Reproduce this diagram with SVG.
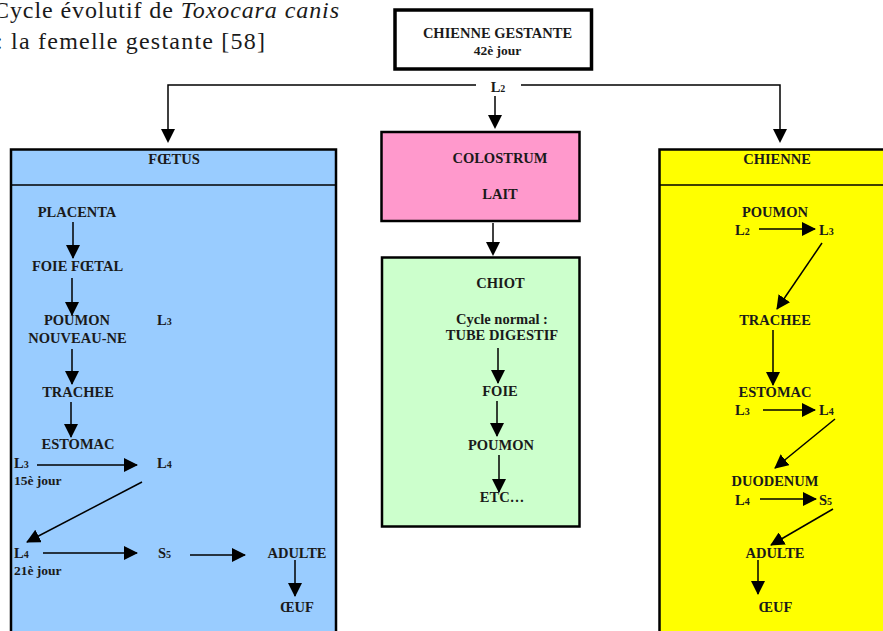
<svg xmlns="http://www.w3.org/2000/svg" width="883" height="631" viewBox="0 0 883 631">
  <style>
    .lbl { font-family: "Liberation Serif", "DejaVu Serif", serif; font-size: 14.5px; font-weight: bold; fill: #1a1a1a; }
    .cap { font-family: "Liberation Serif", serif; font-size: 24px; fill: #1a1a1a; }
    .sm { font-size: 13.5px; }
    .sub { font-size: 10px; }
    .mid { text-anchor: middle; }
    .box { stroke: #000; stroke-width: 2.5; }
    .conn { fill: none; stroke: #000; stroke-width: 1.5; }
    .arr { fill: none; stroke: #000; stroke-width: 1.5; marker-end: url(#head); }
  </style>
  <defs>
    <marker id="head" markerUnits="userSpaceOnUse" viewBox="0 0 14 14" refX="13" refY="7" markerWidth="14" markerHeight="14" orient="auto">
      <path d="M0,0 L14,7 L0,14 z" fill="#000"/>
    </marker>
  </defs>

  <rect width="883" height="631" fill="#fff"/>

  <!-- caption (runs off the page on the left) -->
  <text class="cap" x="-7" y="18" textLength="346" lengthAdjust="spacing">Cycle évolutif de <tspan font-style="italic">Toxocara canis</tspan></text>
  <text class="cap" x="-4" y="49" textLength="269" lengthAdjust="spacing">: la femelle gestante [58]</text>

  <!-- connectors from the pregnant bitch -->
  <g id="connectors">
    <polyline class="conn" points="476,85 168,85 168,130"/>
    <path d="M161,129 L175,129 L168,143 z" fill="#000"/>
    <polyline class="conn" points="521,85 780,85 780,130"/>
    <path d="M773,129 L787,129 L780,143 z" fill="#000"/>
    <line class="conn" x1="495" y1="96" x2="495" y2="116"/>
    <path d="M488,115 L502,115 L495,129 z" fill="#000"/>
    <text class="lbl mid" x="498" y="92">L<tspan class="sub">2</tspan></text>
    <line class="conn" x1="493" y1="223" x2="493" y2="244"/>
    <path d="M486,242 L500,242 L493,256 z" fill="#000"/>
  </g>

  <!-- pregnant bitch -->
  <g id="chienne-gestante">
    <rect x="395" y="10" width="196.5" height="59" fill="#fff" stroke="#000" stroke-width="3.5"/>
    <text class="lbl mid" x="497.5" y="38" font-size="15">CHIENNE GESTANTE</text>
    <text class="lbl mid sm" x="497.5" y="55">42è jour</text>
  </g>

  <!-- foetus -->
  <g id="foetus">
    <rect class="box" x="11" y="149.5" width="325" height="500" fill="#99ccff"/>
    <line x1="11" y1="185" x2="336" y2="185" stroke="#000" stroke-width="1.3"/>
    <text class="lbl mid" x="174" y="164">FŒTUS</text>
    <text class="lbl mid" x="77" y="217">PLACENTA</text>
    <line class="arr" x1="73" y1="222" x2="73" y2="258"/>
    <text class="lbl mid" x="77.5" y="271">FOIE FŒTAL</text>
    <line class="arr" x1="72" y1="278" x2="72" y2="315"/>
    <text class="lbl mid" x="77" y="325">POUMON</text>
    <text class="lbl" x="157" y="325">L<tspan class="sub">3</tspan></text>
    <text class="lbl mid" x="77.5" y="342.5">NOUVEAU-NE</text>
    <line class="arr" x1="72" y1="349" x2="72" y2="384"/>
    <text class="lbl mid" x="78" y="396.5">TRACHEE</text>
    <line class="arr" x1="71" y1="402" x2="71" y2="437"/>
    <text class="lbl mid" x="78" y="449">ESTOMAC</text>
    <text class="lbl" x="14" y="468">L<tspan class="sub">3</tspan></text>
    <line class="arr" x1="37" y1="465" x2="137" y2="465"/>
    <text class="lbl" x="157" y="468">L<tspan class="sub">4</tspan></text>
    <text class="lbl sm" x="14" y="485">15è jour</text>
    <line class="arr" x1="142" y1="482" x2="27" y2="542"/>
    <text class="lbl" x="14" y="558">L<tspan class="sub">4</tspan></text>
    <line class="arr" x1="43" y1="553" x2="137" y2="553"/>
    <text class="lbl" x="158" y="558">S<tspan class="sub">5</tspan></text>
    <line class="arr" x1="190" y1="555" x2="245" y2="555"/>
    <text class="lbl mid" x="297" y="558">ADULTE</text>
    <text class="lbl sm" x="14" y="575">21è jour</text>
    <line class="arr" x1="295" y1="560" x2="295" y2="596"/>
    <text class="lbl mid" x="297" y="612">ŒUF</text>
  </g>

  <!-- colostrum / milk -->
  <g id="colostrum">
    <rect class="box" x="381.5" y="132" width="198" height="89" fill="#ff99cc"/>
    <text class="lbl mid" x="500" y="163">COLOSTRUM</text>
    <text class="lbl mid" x="500" y="199">LAIT</text>
  </g>

  <!-- puppy -->
  <g id="chiot">
    <rect class="box" x="382" y="257.5" width="197.5" height="269" fill="#ccffcc"/>
    <text class="lbl mid" x="500.5" y="288">CHIOT</text>
    <text class="lbl mid" x="502" y="324">Cycle normal :</text>
    <text class="lbl mid" x="502" y="340">TUBE DIGESTIF</text>
    <line class="arr" x1="498" y1="348" x2="498" y2="383"/>
    <text class="lbl mid" x="500" y="396">FOIE</text>
    <line class="arr" x1="497" y1="401" x2="497" y2="436"/>
    <text class="lbl mid" x="501" y="450">POUMON</text>
    <line class="arr" x1="499" y1="455" x2="499" y2="492"/>
    <text class="lbl mid" x="502" y="502">ETC…</text>
  </g>

  <!-- bitch -->
  <g id="chienne">
    <rect class="box" x="659.5" y="149.5" width="240" height="500" fill="#ffff00"/>
    <line x1="659.5" y1="185" x2="883" y2="185" stroke="#000" stroke-width="1.3"/>
    <text class="lbl mid" x="777" y="164">CHIENNE</text>
    <text class="lbl mid" x="775" y="217">POUMON</text>
    <text class="lbl" x="735" y="235">L<tspan class="sub">2</tspan></text>
    <line class="arr" x1="759" y1="229" x2="815" y2="229"/>
    <text class="lbl" x="819" y="235">L<tspan class="sub">3</tspan></text>
    <line class="arr" x1="822" y1="243" x2="777" y2="309"/>
    <text class="lbl mid" x="775" y="325">TRACHEE</text>
    <line class="arr" x1="773" y1="330" x2="773" y2="385"/>
    <text class="lbl mid" x="775" y="397">ESTOMAC</text>
    <text class="lbl" x="735" y="415">L<tspan class="sub">3</tspan></text>
    <line class="arr" x1="763" y1="410" x2="815" y2="410"/>
    <text class="lbl" x="819" y="415">L<tspan class="sub">4</tspan></text>
    <line class="arr" x1="835" y1="419" x2="775" y2="468"/>
    <text class="lbl mid" x="775" y="486">DUODENUM</text>
    <text class="lbl" x="735" y="505">L<tspan class="sub">4</tspan></text>
    <line class="arr" x1="760" y1="499" x2="816" y2="499"/>
    <text class="lbl" x="819" y="505">S<tspan class="sub">5</tspan></text>
    <line class="arr" x1="833" y1="509" x2="771" y2="545"/>
    <text class="lbl mid" x="775" y="558">ADULTE</text>
    <line class="arr" x1="758" y1="560" x2="758" y2="594"/>
    <text class="lbl mid" x="775.5" y="612">ŒUF</text>
  </g>
</svg>
